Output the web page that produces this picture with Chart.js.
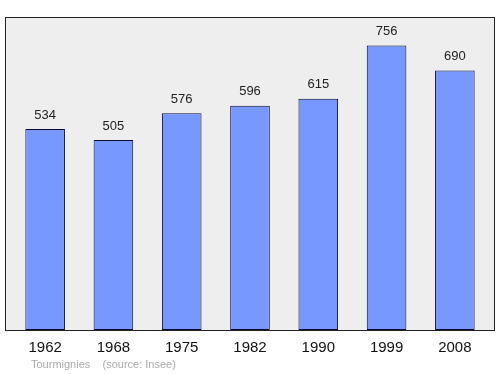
<!DOCTYPE html>
<html><head><meta charset="utf-8">
<script src="https://cdn.jsdelivr.net/npm/chart.js@4/dist/chart.umd.min.js"></script>
<style>html,body{margin:0;padding:0;background:#fff}#wrap{width:500px;height:374px}</style>
</head><body><div id="wrap"><canvas id="c" width="500" height="374"></canvas></div>
<script>
const years = ['1962','1968','1975','1982','1990','1999','2008'];
const population = [534, 505, 576, 596, 615, 756, 690];
const sourceText = 'Tourmignies    (source: Insee)';

const framePlugin = {
  id: 'frame',
  beforeDraw(chart) {
    const {ctx, chartArea: a} = chart;
    ctx.save();
    ctx.fillStyle = '#eeeeee';
    ctx.strokeStyle = '#222222';
    ctx.lineWidth = 1;
    const l = Math.round(a.left - 6) + 0.5, r = Math.round(a.right + 6) - 0.5;
    const t = Math.round(a.top) + 0.5, b = Math.round(a.bottom) + 0.5;
    ctx.fillRect(l, t, r - l, b - t);
    ctx.strokeRect(l, t, r - l, b - t);
    ctx.restore();
  },
  afterDatasetsDraw(chart) {
    const {ctx} = chart;
    const meta = chart.getDatasetMeta(0);
    ctx.save();
    ctx.font = '13px "Liberation Sans", Arial, sans-serif';
    ctx.fillStyle = '#222222';
    ctx.textAlign = 'center';
    ctx.textBaseline = 'middle';
    meta.data.forEach((bar, i) => {
      ctx.fillText(String(population[i]), bar.x, bar.y - 14);
    });
    ctx.font = '11px "Liberation Sans", Arial, sans-serif';
    ctx.fillStyle = '#aaaaaa';
    ctx.textAlign = 'left';
    ctx.fillText(sourceText, 31, 365);
    ctx.restore();
  }
};

new Chart(document.getElementById('c'), {
  type: 'bar',
  data: {
    labels: years,
    datasets: [{
      data: population,
      backgroundColor: '#7799ff',
      borderColor: '#0a0a30',
      borderWidth: 1,
      borderSkipped: false,
      barPercentage: 0.58,
      categoryPercentage: 1
    }]
  },
  options: {
    responsive: false,
    animation: false,
    layout: {padding: {left: 11, right: 11, top: 17, bottom: 0}},
    plugins: {legend: {display: false}, tooltip: {enabled: false}},
    scales: {
      x: {
        grid: {display: false, drawTicks: false},
        border: {display: false},
        ticks: {
          color: '#111111',
          font: {size: 15, family: '"Liberation Sans", Arial, sans-serif'},
          padding: 9
        },
        afterFit(axis) { axis.height = 44; }
      },
      y: {
        display: false,
        min: 0,
        max: 832
      }
    }
  },
  plugins: [framePlugin]
});
</script>
</body></html>
